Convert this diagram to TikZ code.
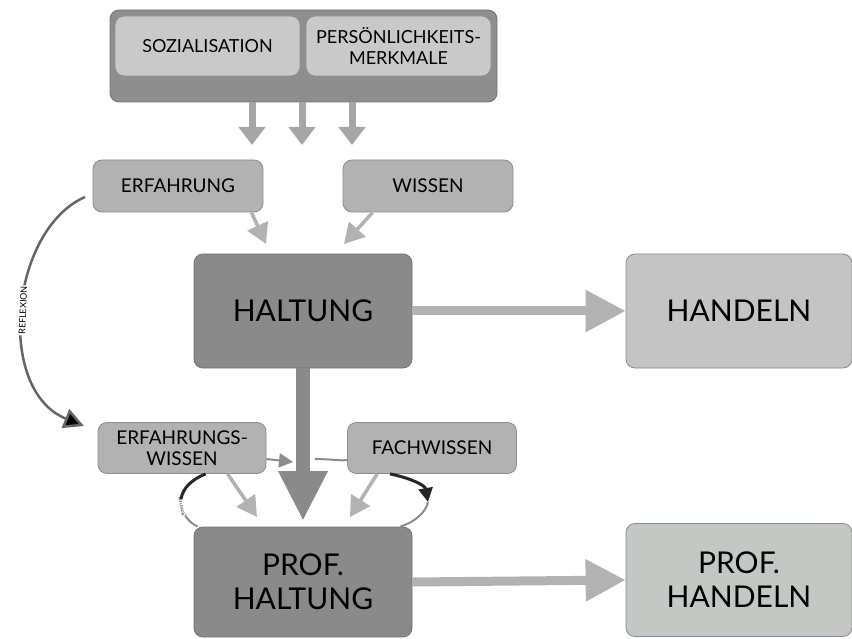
\documentclass[tikz,border=0pt]{standalone}
\usepackage{fontspec}
\setmainfont{Lato}
\usetikzlibrary{arrows.meta}
\definecolor{frame}{HTML}{8E8E8E}
\definecolor{inner}{HTML}{C9C9C9}
\definecolor{middle}{HTML}{B2B2B2}
\definecolor{core}{HTML}{8A8A8A}
\definecolor{outer}{HTML}{C4C4C4}
\definecolor{outerg}{HTML}{C4C8C4}
\definecolor{shaft}{HTML}{A6A6A6}
\begin{document}
\begin{tikzpicture}[x=1pt,y=-1pt,style=thick]
\tikzstyle{every node}=[text=black]
\tikzstyle{box}=[draw=black!45, rounded corners=9pt, inner sep=0pt, align=center]
\tikzstyle{small}=[box, fill=middle, font=\fontsize{19}{21}\selectfont]
\tikzstyle{big}=[box, fill=core, draw=black!55, font=\fontsize{30}{34}\selectfont]
\tikzstyle{down}=[draw=shaft, line width=7pt, -{Triangle[width=26pt,length=18pt]}]
\tikzstyle{slant}=[draw=middle, line width=3.5pt, -{Triangle[width=22pt,length=20pt]}]
\tikzstyle{wide}=[draw=middle, line width=9pt, -{Triangle[width=40pt,length=40pt]}]
\tikzstyle{loopline}=[draw=black!45, line width=2pt]
\tikzstyle{loopdark}=[draw=black!85, line width=3pt]
\useasboundingbox (0,0) rectangle (852,639);

% top block
\node[box, fill=frame, draw=black!55, minimum width=387pt, minimum height=92pt] (top) at (303.5,56) {};
\node[box, fill=inner, minimum width=185pt, minimum height=60pt, font=\fontsize{18}{21}\selectfont] (soz) at (207.5,46) {SOZIALISATION};
\node[box, fill=inner, minimum width=185pt, minimum height=60pt, font=\fontsize{18}{21}\selectfont] (pers) at (398.5,46) {PERSÖNLICHKEITS-\\MERKMALE};

\coordinate (t1) at (252,145);
\coordinate (t2) at (302,145);
\coordinate (t3) at (352,145);
\draw[down] (top.south -| t1) -- (t1);
\draw[down] (top.south -| t2) -- (t2);
\draw[down] (top.south -| t3) -- (t3);

% middle row
\node[small, minimum width=170pt, minimum height=52pt] (erf) at (178,186) {ERFAHRUNG};
\node[small, minimum width=170pt, minimum height=52pt] (wis) at (428,186) {WISSEN};

\node[big, minimum width=218pt, minimum height=114pt] (hal) at (303,311) {HALTUNG};
\node[box, fill=outer, minimum width=226pt, minimum height=114pt, font=\fontsize{30}{34}\selectfont] (han) at (739,311) {HANDELN};

\coordinate (e1) at (266,244);
\coordinate (w1) at (344,244);
\draw[slant] ([xshift=-12pt]erf.south east) -- (e1);
\draw[slant] ([xshift=30pt]wis.south west) -- (w1);
\draw[wide] (hal.east) -- (han.west);

% lower row
\node[small, minimum width=168pt, minimum height=51pt] (erfw) at (182,448) {ERFAHRUNGS-\\WISSEN};
\node[small, minimum width=169pt, minimum height=51pt] (fach) at (432,448) {FACHWISSEN};

\node[big, minimum width=218pt, minimum height=110pt] (pha) at (303,582) {PROF.\\HALTUNG};
\node[box, fill=outerg, minimum width=226pt, minimum height=113pt, font=\fontsize{30}{34}\selectfont] (phn) at (739,580) {PROF.\\HANDELN};

% loop round the trunk
\coordinate (lr) at (428,502);
\coordinate (ll) at (181,499);
\draw[loopline, -{Triangle[width=14pt,length=14pt]}] ([yshift=-11pt]erfw.east) -- (293,462);
\draw[loopline] (315,459) .. controls (330,459) and (340,461) .. ([yshift=-12pt]fach.west);
\draw[loopdark, -{Triangle[width=14pt,length=14pt]}] ([xshift=-42pt]fach.south) .. controls (410,478) and (425,485) .. (lr);
\draw[loopline] (lr) .. controls (426,512) and (415,522) .. ([xshift=-12pt]pha.north east);
\draw[loopline] ([xshift=4pt]pha.north west) .. controls (188,522) and (180,512) .. (ll)
  node[sloped, fill=white, inner sep=0.5pt, font=\fontsize{3.5}{4}\selectfont, pos=0.8] {REFLEXION};
\draw[loopdark] (ll) .. controls (183,487) and (193,479) .. ([xshift=108pt]erfw.south west);

\draw[slant] ([xshift=130pt]erfw.south west) -- (257,517);
\draw[slant] ([xshift=30pt]fach.south west) -- (350,517);

% trunk
\draw[draw=core, line width=14pt, -{Triangle[width=46pt,length=50pt]}] (hal.south) -- (303,521);
\draw[wide] (pha.east) -- (phn.west);

% reflexion arc
\draw[draw=black!60, line width=2.5pt, -{Triangle[width=20pt,length=20pt,fill=black]}] (85,197) .. controls (10,230) and (-5,390) .. (84,426)
  node[sloped, fill=white, inner sep=1pt, font=\fontsize{9}{10}\selectfont, pos=0.5] {REFLEXION};
\end{tikzpicture}
\end{document}
